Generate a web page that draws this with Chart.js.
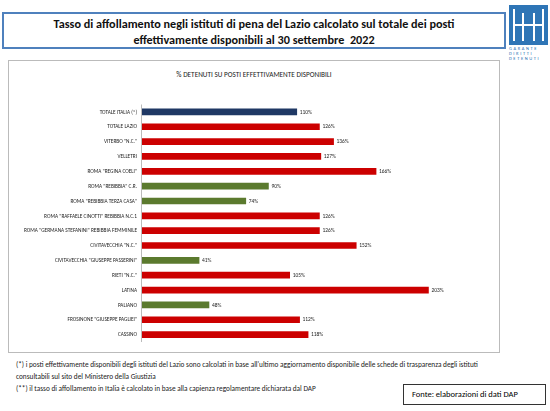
<!DOCTYPE html>
<html><head><meta charset="utf-8">
<script src="https://cdn.jsdelivr.net/npm/chart.js@4"></script>
<style>
body{margin:0;width:550px;height:411px;background:#fff;font-family:Carlito,"Liberation Sans",sans-serif;position:relative;overflow:hidden}
#tb{position:absolute;left:2px;top:12px;width:504px;height:37px;border:2px solid #4f81bd;box-sizing:border-box;text-align:center;font-weight:bold;font-size:12.2px;line-height:16px;padding-top:2px;color:#111}
#logo{position:absolute;left:509px;top:5px;width:39px;height:40px;background:#2e75b6}
#lt{position:absolute;left:509px;top:46px;width:40px;font-size:4.5px;color:#2e75b6;letter-spacing:1.6px;line-height:5px}
#box{position:absolute;left:8px;top:60px;width:492px;height:293px;border:1px solid #bbb;box-sizing:border-box}
#ct{position:absolute;left:0;top:8px;width:100%;text-align:center;font-size:8.5px;color:#222;transform:scaleX(0.85)}
canvas{position:absolute;left:0;top:0}
#fn{position:absolute;left:16px;top:359px;font-size:7.3px;line-height:12px;color:#222}
#src{position:absolute;left:403px;top:384px;width:143px;height:21px;border:1px solid #333;box-sizing:border-box;font-size:8.5px;line-height:19px;padding-left:8px}
</style></head><body>
<div id="tb">Tasso di affollamento negli istituti di pena del Lazio calcolato sul totale dei posti<br>effettivamente disponibili al 30 settembre&nbsp; 2022</div>
<div id="logo"><svg width="39" height="40"><g stroke="#fff" stroke-width="2" fill="none"><path d="M5 4V36M34 4V36M5 20H34M14 20V36M25 20V36M14 8V20M25 8V20"/></g></svg></div>
<div id="lt">GARANTE DIRITTI DETENUTI</div>
<div id="box"><div id="ct">% DETENUTI SU POSTI EFFETTIVAMENTE DISPONIBILI</div><canvas id="c" width="490" height="291"></canvas></div>
<div id="fn">(*) i posti effettivamente disponibili degli istituti del Lazio sono calcolati in base all'ultimo aggiornamento disponibile delle schede di trasparenza degli istituti<br>consultabili sul sito del Ministero della Giustizia<br>(**) il tasso di affollamento in Italia è calcolato in base alla capienza regolamentare dichiarata dal DAP</div>
<div id="src">Fonte: elaborazioni di dati DAP</div>
<script>
const categories=['TOTALE ITALIA (*)','TOTALE LAZIO','VITERBO "N.C."','VELLETRI','ROMA "REGINA COELI"','ROMA "REBIBBIA" C.R.','ROMA "REBIBBIA TERZA CASA"','ROMA "RAFFAELE CINOTTI" REBIBBIA N.C.1','ROMA "GERMANA STEFANINI" REBIBBIA FEMMINILE','CIVITAVECCHIA "N.C."','CIVITAVECCHIA "GIUSEPPE PASSERINI"','RIETI "N.C."','LATINA','PALIANO','FROSINONE "GIUSEPPE PAGLIEI"','CASSINO'];
const values=[110,126,136,127,166,90,74,126,126,152,41,105,203,48,112,118];
const colors=values.map((v,i)=>i===0?'#1f3864':(v<100?'#5b7a2e':'#cc0000'));
const lbl={id:'lbl',afterDatasetsDraw(ch){const c=ch.ctx;c.save();c.fillStyle='#222';c.textBaseline='middle';
const a=ch.chartArea;const ys=ch.scales.y;
c.font='6.8px Carlito,"Liberation Sans",sans-serif';
categories.forEach((t,i)=>{const y=ys.getPixelForTick(i);c.textAlign='right';const w=c.measureText(t).width;
c.save();const s=Math.min(1,0.78);c.translate(a.left-4,y);c.scale(s,1);c.fillText(t,0,0);c.restore();});
c.textAlign='left';
ch.getDatasetMeta(0).data.forEach((b,i)=>{c.save();c.translate(b.x+3,b.y);c.scale(0.8,1);c.fillText(values[i]+'%',0,0);c.restore();});
c.strokeStyle='#bbb';c.lineWidth=1;c.beginPath();c.moveTo(a.left+0.5,a.top);c.lineTo(a.left+0.5,a.bottom);c.stroke();c.restore();}};
new Chart(document.getElementById('c'),{type:'bar',data:{labels:categories,datasets:[{data:values,backgroundColor:colors,barThickness:6}]},
options:{indexAxis:'y',responsive:false,animation:false,layout:{padding:{top:43.5,bottom:10,right:4,left:0}},
plugins:{legend:{display:false},tooltip:{enabled:false}},
scales:{x:{display:false,min:0,max:250},y:{grid:{display:false},border:{display:false},ticks:{display:false},afterFit(s){s.width=132;}}}},plugins:[lbl]});
</script></body></html>
